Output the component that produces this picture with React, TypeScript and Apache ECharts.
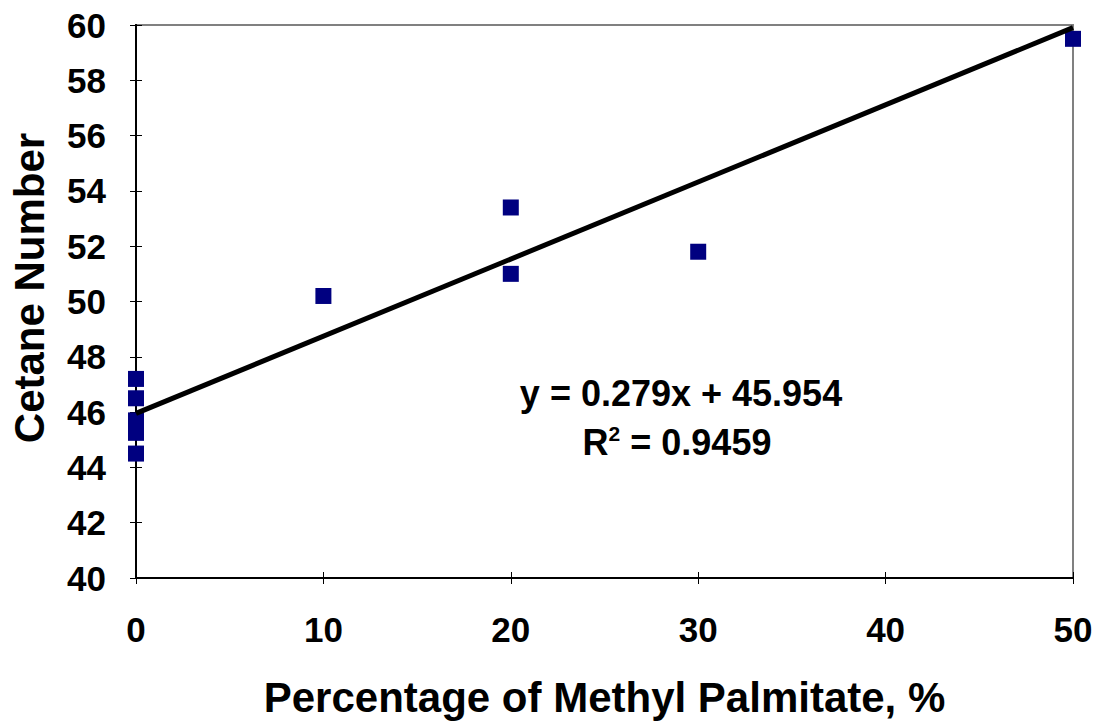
import React, { useEffect, useRef } from "react";
import * as echarts from "echarts";

const pctPalmitate = [0, 0, 0, 0, 0, 10, 20, 20, 30, 50];
const cetaneNumber = [47.2, 46.5, 45.7, 45.25, 44.5, 50.2, 53.4, 51.0, 51.8, 59.5];
const slope = 0.279;
const intercept = 45.954;
const rSquared = "0.9459";
const xTicks = [0, 10, 20, 30, 40, 50];
const yRange = [40, 60];

const FONT = "'Liberation Sans', Arial, sans-serif";

export default function App() {
  const ref = useRef<HTMLDivElement>(null);
  useEffect(() => {
    const chart = echarts.init(ref.current!, null, { renderer: "svg" });
    const xMin = xTicks[0];
    const xMax = xTicks[xTicks.length - 1];
    const trend = [
      [xMin, slope * xMin + intercept],
      [xMax, slope * xMax + intercept],
    ];
    const baseX = {
      type: "value" as const,
      min: xMin,
      max: xMax,
      interval: 10,
      splitLine: { show: false },
      axisLine: { show: true, onZero: false, lineStyle: { color: "#000", width: 2 } },
    };
    const baseY = {
      type: "value" as const,
      min: yRange[0],
      max: yRange[1],
      interval: 2,
      splitLine: { show: false },
      axisLine: { show: true, onZero: false, lineStyle: { color: "#000", width: 2 } },
    };
    chart.setOption({
      animation: false,
      backgroundColor: "#fff",
      grid: {
        left: 136,
        top: 25,
        right: 23,
        bottom: 145,
        show: true,
        borderColor: "#808080",
        borderWidth: 2,
        backgroundColor: "transparent",
      },
      xAxis: [
        {
          ...baseX,
          position: "bottom",
          axisTick: { show: true, inside: false, length: 6, lineStyle: { color: "#000", width: 1 } },
          axisLabel: {
            margin: 34,
            fontFamily: FONT,
            fontWeight: "bold",
            fontSize: 35,
            color: "#000",
          },
          name: "Percentage of Methyl Palmitate, %",
          nameLocation: "middle",
          nameGap: 98,
          nameTextStyle: { fontFamily: FONT, fontWeight: "bold", fontSize: 42, color: "#000" },
        },
        {
          ...baseX,
          position: "bottom",
          axisTick: { show: true, inside: true, length: 6, lineStyle: { color: "#000", width: 1 } },
          axisLabel: { show: false },
        },
      ],
      yAxis: [
        {
          ...baseY,
          position: "left",
          axisTick: { show: true, inside: false, length: 6, lineStyle: { color: "#000", width: 1 } },
          axisLabel: {
            margin: 30,
            fontFamily: FONT,
            fontWeight: "bold",
            fontSize: 35,
            color: "#000",
          },
        },
        {
          ...baseY,
          position: "left",
          axisTick: { show: true, inside: true, length: 6, lineStyle: { color: "#000", width: 1 } },
          axisLabel: { show: false },
        },
      ],
      series: [
        {
          type: "scatter",
          data: pctPalmitate.map((x, i) => [x, cetaneNumber[i]]),
          symbol: "rect",
          symbolSize: 16,
          itemStyle: { color: "#000080", opacity: 1 },
          z: 2,
        },
        {
          type: "line",
          data: trend,
          showSymbol: false,
          symbol: "none",
          lineStyle: { color: "#000", width: 5 },
          z: 3,
        },
      ],
      graphic: [
        {
          type: "text",
          x: 29,
          y: 288,
          rotation: Math.PI / 2,
          style: {
            text: "Cetane Number",
            fontFamily: FONT,
            fontWeight: "bold",
            fontSize: 42,
            fill: "#000",
            align: "center",
            verticalAlign: "middle",
          },
        },
        {
          type: "text",
          x: 681,
          y: 393,
          style: {
            text: `y = ${slope}x + ${intercept}`,
            fontFamily: FONT,
            fontWeight: "bold",
            fontSize: 36,
            fill: "#000",
            align: "center",
            verticalAlign: "middle",
          },
        },
        {
          type: "text",
          x: 677,
          y: 442,
          style: {
            text: `R{sup|2} = ${rSquared}`,
            fontFamily: FONT,
            fontWeight: "bold",
            fontSize: 36,
            fill: "#000",
            align: "center",
            verticalAlign: "middle",
            rich: {
              sup: {
                fontFamily: FONT,
                fontWeight: "bold",
                fontSize: 21,
                fill: "#000",
                verticalAlign: "top",
                padding: [0, 0, 18, 0],
              },
            },
          },
        },
      ],
    });
    return () => chart.dispose();
  }, []);
  return (
    <div
      ref={ref}
      style={{ position: "absolute", left: 0, top: 0, width: 1096, height: 723 }}
    />
  );
}
